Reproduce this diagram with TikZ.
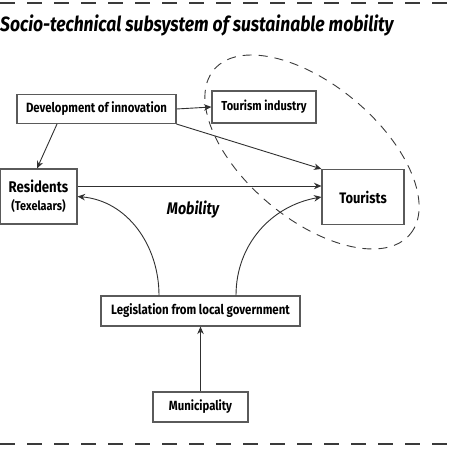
\documentclass[tikz,border=0pt]{standalone}
\usepackage{fontspec}
\setmainfont{Fira Sans}[FakeStretch=0.85]
\usetikzlibrary{arrows.meta}
\definecolor{boxgray}{HTML}{5A5A5A}
\definecolor{linegray}{HTML}{303030}
\definecolor{dashgray}{HTML}{3A3A3A}
\begin{document}
\begin{tikzpicture}[x=1pt,y=1pt,
  box/.style={draw=boxgray, line width=1.1pt, inner sep=0pt, align=center,
    font=\bfseries\fontsize{13.4}{15}\selectfont},
  conn/.style={draw=linegray, line width=0.9pt, -{Stealth[length=7.5pt,width=6.5pt]}},
  sep/.style={draw=dashgray, line width=2pt, dash pattern=on 15pt off 12pt},
  ring/.style={draw=dashgray, line width=0.9pt, dash pattern=on 9pt off 7pt}]
\useasboundingbox (0,0) rectangle (450,450);
% separators
\coordinate (tl) at (0,447); \coordinate (tr) at (450,447);
\coordinate (bl) at (0,6); \coordinate (br) at (450,6);
\draw[sep] (tl) -- (tr);
\draw[sep] (bl) -- (br);
% title
\node[anchor=base west, inner sep=0pt, font=\bfseries\itshape\fontsize{20.6}{24}\selectfont] (title) at (0,418) {Socio-technical subsystem of sustainable mobility};
% dashed ellipse
\draw[ring] (312,298) ellipse[x radius=128, y radius=67, rotate=-40];
% boxes
\node[box, minimum width=159pt, minimum height=29pt] (dev) at (96.5,341) {Development of innovation};
\node[box, fill=white, minimum width=104pt, minimum height=32pt, font=\bfseries\fontsize{13}{15}\selectfont] (tind) at (264,343) {Tourism industry};
\node[box, minimum width=77pt, minimum height=55pt] (res) at (38.5,253.5) {{\fontsize{15.5}{17}\selectfont Residents}\\[3pt]{\fontsize{12.8}{14}\selectfont (Texelaars)}};
\node[box, minimum width=82pt, minimum height=55pt, font=\bfseries\fontsize{15.2}{17}\selectfont] (tour) at (363,253) {Tourists};
\node[box, minimum width=199pt, minimum height=30pt, font=\bfseries\fontsize{13.5}{15}\selectfont] (leg) at (200.5,139) {Legislation from local government};
\node[box, minimum width=95pt, minimum height=30pt, font=\bfseries\fontsize{13.3}{15}\selectfont] (mun) at (200.5,43) {Municipality};
\node[font=\bfseries\itshape\fontsize{16.8}{18}\selectfont] (mob) at (193,240) {Mobility};
% connectors
\draw[conn] (dev.east) -- (tind.west);
\draw[conn] ([xshift=-39.5pt]dev.south) -- ([xshift=-1.5pt]res.north);
\draw[conn] (dev.south east) -- (tour.north west);
\draw[conn] ([yshift=10.5pt]res.east) -- ([yshift=11pt]tour.west);
\draw[conn] ([xshift=-41.5pt]leg.north) to[out=90, in=-5] (res.east);
\draw[conn] ([xshift=35.5pt]leg.north) to[out=90, in=190] (tour.west);
\draw[conn] (mun.north) -- (leg.south);
\end{tikzpicture}
\end{document}
